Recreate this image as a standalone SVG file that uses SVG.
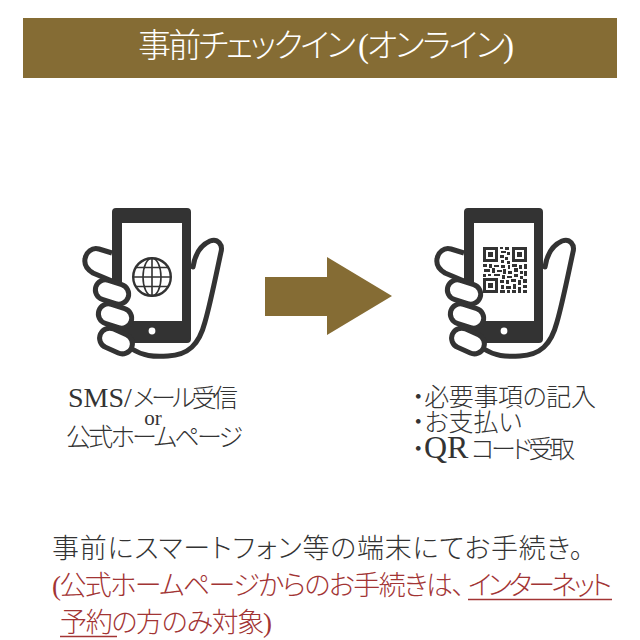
<svg xmlns="http://www.w3.org/2000/svg" width="640" height="640" viewBox="0 0 640 640">
<style>
text{font-family:"Liberation Serif","Noto Sans CJK JP",serif;font-weight:300;font-feature-settings:"palt"}
.k{fill:#333}.r{fill:#a23434}
.h{fill:#fff;stroke:#333;stroke-width:5}
.hn{fill:none;stroke:#333;stroke-width:5;stroke-linecap:round}
.g{fill:none;stroke:#333;stroke-width:1.6}
</style>
<defs>
<g id="hand">
<path class="hn" d="M193 267C195 254 201 245 210 241C218 238 223 245 221 252C215 280 210 305 205 322C199 345 188 355 168 356C153 357 143 356 132 349"/>
<path fill="#333" d="M116 208H187a4 4 0 0 1 4 4V339a4 4 0 0 1-4 4H116a4 4 0 0 1-4-4V212a4 4 0 0 1 4-4ZM122 223V321H182V223Z" fill-rule="evenodd"/>
<circle cx="152" cy="331" r="3.4" fill="#fff"/>
<path class="h" d="M112 253L99 249C92 247 86 252 85 259C84 265 88 270 93 273L112 281"/>
<rect class="h" x="95" y="282" width="34" height="20" rx="10" transform="rotate(18 112 292)"/>
<rect class="h" x="98" y="306" width="34" height="20" rx="10" transform="rotate(18 115 316)"/>
<rect class="h" x="99" y="331" width="34" height="20" rx="10" transform="rotate(24 116 341)"/>
</g>
</defs>
<g id="header">
<rect x="23" y="18" width="594" height="60" fill="#856c34"/>
<text y="57" font-size="33" fill="#fff"><tspan x="138" textLength="218">事前チェックイン</tspan><tspan x="358" textLength="156">(オンライン)</tspan></text>
</g>
<g id="node-sms">
<use href="#hand"/>
<g id="globe">
<circle class="g" cx="152" cy="277" r="18.800" style="stroke-width:2.4"/>
<ellipse class="g" cx="152" cy="277" rx="9" ry="18.800"/>
<path class="g" d="M152 258.500V295.500M133.500 277H170.500M136 267.500H168M136 286.500H168"/>
</g>
<text y="407" font-size="25" class="k"><tspan x="68" font-size="28">SMS/</tspan><tspan x="133" textLength="105">メール受信</tspan></text>
<text x="153" y="425" font-size="21" class="k" text-anchor="middle">or</text>
<text x="66" y="446" font-size="25" class="k" textLength="177">公式ホームページ</text>
</g>
<g id="node-qr">
<use href="#hand" x="352"/>
<g id="qr" fill="#333">
<path fill-rule="evenodd" d="M483 247H498V262H483ZM486 250V259H495V250ZM512 247H527V262H512ZM515 250V259H524V250ZM483 278H498V293H483ZM486 281V290H495V281Z"/>
<path d="M488 252h5v5h-5zM517 252h5v5h-5zM488 283h5v5h-5zM500 247h3v2h-3zM505 247h4v3h-4zM501 251h5v2h-5zM507 252h3v3h-3zM500 255h4v3h-4zM505 257h3v3h-3zM501 260h3v3h-3zM507 261h3v3h-3zM483 264h4v3h-4zM489 264h3v4h-3zM494 265h5v2h-5zM501 265h4v3h-4zM508 265h2v4h-2zM512 264h5v3h-5zM519 265h3v4h-3zM524 264h3v5h-3zM484 269h6v3h-6zM492 268h3v5h-3zM497 270h5v2h-5zM503 269h3v5h-3zM508 271h4v3h-4zM514 268h4v4h-4zM520 271h3v3h-3zM524 271h3v5h-3zM483 274h3v3h-3zM488 274h3v2h-3zM494 274h6v2h-6zM502 275h3v4h-3zM507 276h5v2h-5zM514 274h4v3h-4zM520 276h3v3h-3zM500 280h4v3h-4zM506 280h3v4h-3zM511 279h5v3h-5zM518 280h3v5h-3zM523 279h4v4h-4zM501 285h3v4h-3zM506 286h5v3h-5zM513 284h3v5h-3zM523 285h4v3h-4zM500 290h5v3h-5zM507 290h3v3h-3zM512 290h4v3h-4zM518 287h3v6h-3zM523 290h4v3h-4z"/>
</g>
<text x="412" y="406" font-size="25" class="k" textLength="184">・必要事項の記入</text>
<text x="412" y="431" font-size="25" class="k" textLength="110">・お支払い</text>
<text y="458" font-size="25" class="k"><tspan x="412">・</tspan><tspan x="424" font-size="32">QR</tspan><tspan x="471" textLength="104">コード受取</tspan></text>
</g>
<g id="connectors">
<path id="arrow" fill="#856c34" d="M265 277H327V257L392 296L327 335V316H265Z"/>
</g>
<g id="note">
<text x="52" y="558" font-size="27" class="k" textLength="531">事前にスマートフォン等の端末にてお手続き。</text>
<text y="595" font-size="27" class="r"><tspan x="52" textLength="413">(公式ホームページからのお手続きは、</tspan><tspan x="468" textLength="144">インターネット</tspan></text>
<text x="60" y="632" font-size="27" class="r" textLength="212">予約の方のみ対象)</text>
<path d="M468 599.500H612M60 636.500H117" stroke="#a23434" stroke-width="1.400" fill="none"/>
</g>
</svg>
